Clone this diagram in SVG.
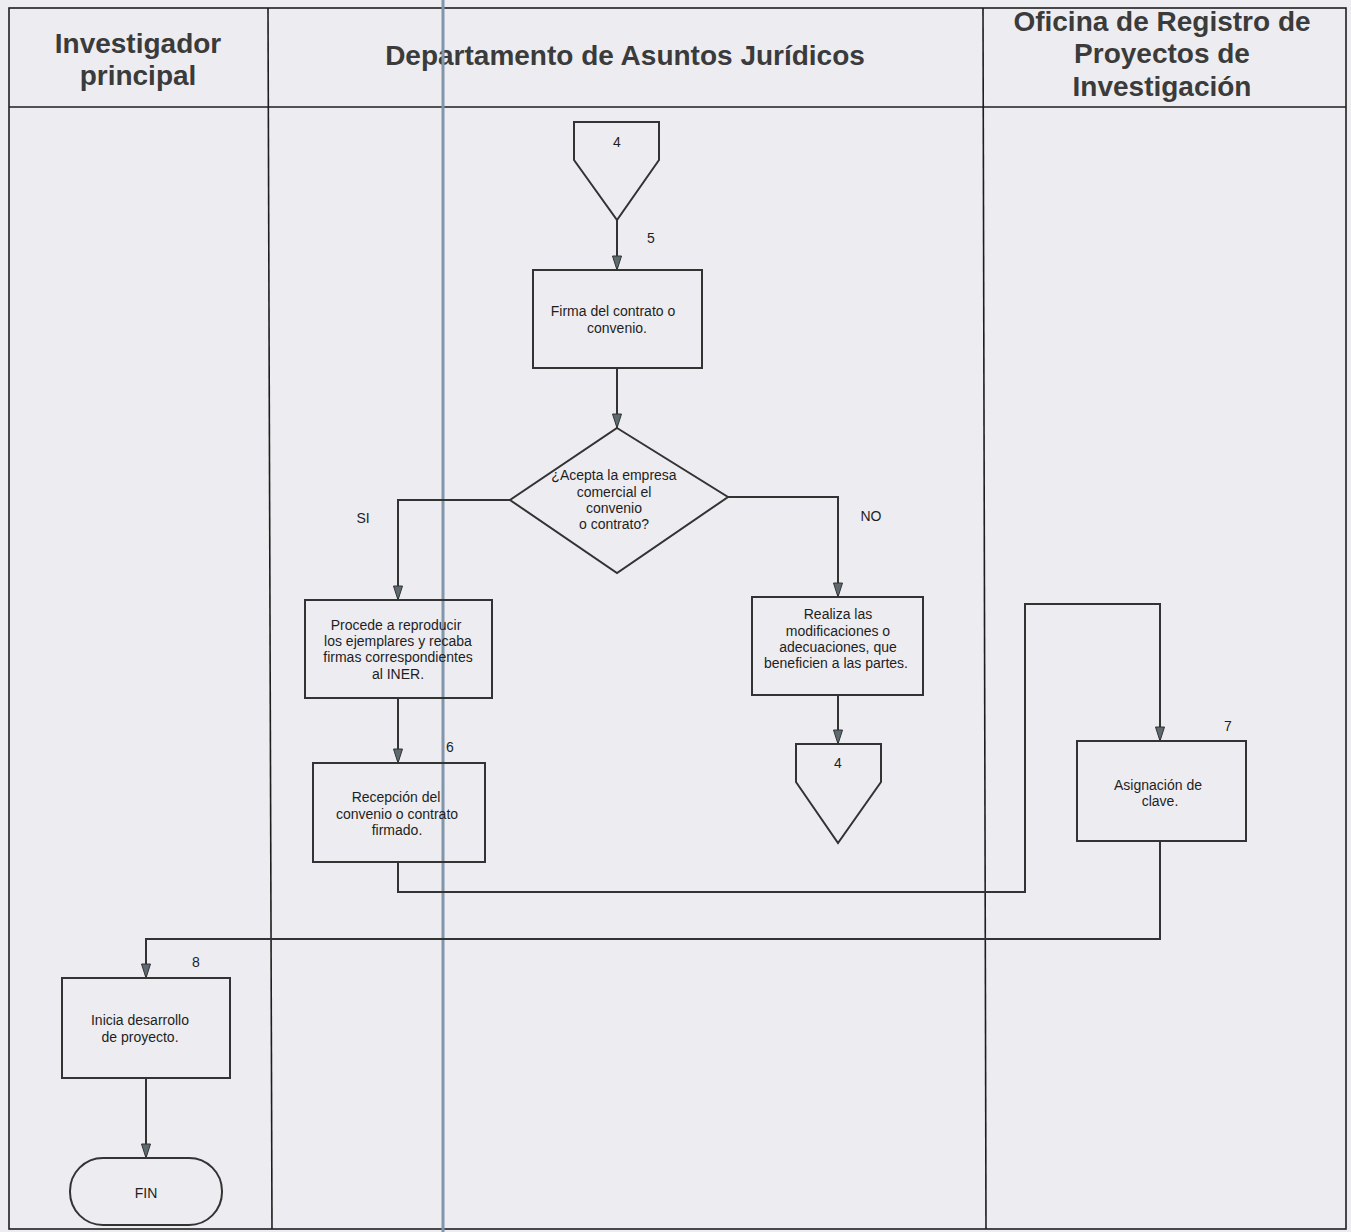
<svg xmlns="http://www.w3.org/2000/svg" width="1351" height="1232" viewBox="0 0 1351 1232">
<style>
.frame{fill:none;stroke:#1e1e1e;stroke-width:1.6}
.hdr{font-family:"Liberation Sans",Arial,sans-serif;font-weight:bold;font-size:28px;fill:#3b3b3b;text-anchor:middle}
.box{fill:none;stroke:#333;stroke-width:2}
.t{font-family:"Liberation Sans",Arial,sans-serif;font-size:14px;fill:#1e1e1e;text-anchor:middle}
.conn{fill:none;stroke:#333;stroke-width:2}
</style>
<defs>
<marker id="arr" markerWidth="16" markerHeight="12" refX="15" refY="6" orient="auto" markerUnits="userSpaceOnUse" viewBox="0 0 16 12">
<path d="M1,1.5 L15,6 L1,10.5 Z" fill="#5d6a70" stroke="#333" stroke-width="1"/>
</marker>
</defs>
<rect x="0" y="0" width="1351" height="1232" fill="#ededf1"/>
<g id="frame">
<rect class="frame" x="9" y="8" width="1337" height="1221"/>
<line class="frame" x1="9" y1="107" x2="1346" y2="107"/>
<line class="frame" x1="268" y1="8" x2="272" y2="1229"/>
<line class="frame" x1="983" y1="8" x2="986" y2="1229"/>
<text class="hdr" x="138" y="53">Investigador</text>
<text class="hdr" x="138" y="85">principal</text>
<text class="hdr" x="625" y="65">Departamento de Asuntos Jurídicos</text>
<text class="hdr" x="1162" y="31">Oficina de Registro de</text>
<text class="hdr" x="1162" y="63">Proyectos de</text>
<text class="hdr" x="1162" y="96">Investigación</text>
</g>
<line x1="443" y1="0" x2="443" y2="1232" stroke="#7f96ab" stroke-width="3"/>
<g id="connectors">
<line class="conn" x1="617" y1="220" x2="617" y2="270" marker-end="url(#arr)"/>
<line class="conn" x1="617" y1="368" x2="617" y2="428" marker-end="url(#arr)"/>
<polyline class="conn" points="510,500 398,500 398,600" marker-end="url(#arr)"/>
<polyline class="conn" points="728,497 838,497 838,597" marker-end="url(#arr)"/>
<line class="conn" x1="398" y1="698" x2="398" y2="763" marker-end="url(#arr)"/>
<line class="conn" x1="838" y1="695" x2="838" y2="744" marker-end="url(#arr)"/>
<polyline class="conn" points="398,862 398,892 1025,892 1025,604 1160,604 1160,741" marker-end="url(#arr)"/>
<polyline class="conn" points="1160,841 1160,939 146,939 146,978" marker-end="url(#arr)"/>
<line class="conn" x1="146" y1="1078" x2="146" y2="1158" marker-end="url(#arr)"/>
<text class="t" x="651" y="243">5</text>
<text class="t" x="363" y="523">SI</text>
<text class="t" x="871" y="521">NO</text>
<text class="t" x="450" y="752">6</text>
<text class="t" x="1228" y="731">7</text>
<text class="t" x="196" y="967">8</text>
</g>
<g id="offpage-4-top">
<polygon class="box" points="574,122 659,122 659,160 617,220 574,160"/>
<text class="t" x="617" y="147">4</text>
</g>
<g id="firma">
<rect class="box" x="533" y="270" width="169" height="98"/>
<text class="t" x="613" y="316">Firma del contrato o</text>
<text class="t" x="617" y="333">convenio.</text>
</g>
<g id="decision">
<polygon class="box" points="617,428 728,497 617,573 510,500"/>
<text class="t" x="614" y="480">¿Acepta la empresa</text>
<text class="t" x="614" y="497">comercial el</text>
<text class="t" x="614" y="513">convenio</text>
<text class="t" x="614" y="529">o contrato?</text>
</g>
<g id="procede">
<rect class="box" x="305" y="600" width="187" height="98"/>
<text class="t" x="396" y="630">Procede a reproducir</text>
<text class="t" x="398" y="646">los ejemplares y recaba</text>
<text class="t" x="398" y="662">firmas correspondientes</text>
<text class="t" x="398" y="679">al INER.</text>
</g>
<g id="recepcion">
<rect class="box" x="313" y="763" width="172" height="99"/>
<text class="t" x="396" y="802">Recepción del</text>
<text class="t" x="397" y="819">convenio o contrato</text>
<text class="t" x="397" y="835">firmado.</text>
</g>
<g id="realiza">
<rect class="box" x="752" y="597" width="171" height="98"/>
<text class="t" x="838" y="619">Realiza las</text>
<text class="t" x="838" y="636">modificaciones o</text>
<text class="t" x="838" y="652">adecuaciones, que</text>
<text class="t" x="836" y="668">beneficien a las partes.</text>
</g>
<g id="offpage-4-bottom">
<polygon class="box" points="796,744 881,744 881,782 838,843 796,782"/>
<text class="t" x="838" y="768">4</text>
</g>
<g id="asignacion">
<rect class="box" x="1077" y="741" width="169" height="100"/>
<text class="t" x="1158" y="790">Asignación de</text>
<text class="t" x="1160" y="806">clave.</text>
</g>
<g id="inicia">
<rect class="box" x="62" y="978" width="168" height="100"/>
<text class="t" x="140" y="1025">Inicia desarrollo</text>
<text class="t" x="140" y="1042">de proyecto.</text>
</g>
<g id="fin">
<rect class="box" x="70" y="1158" width="152" height="67" rx="33" ry="33"/>
<text class="t" x="146" y="1198">FIN</text>
</g>
</svg>
